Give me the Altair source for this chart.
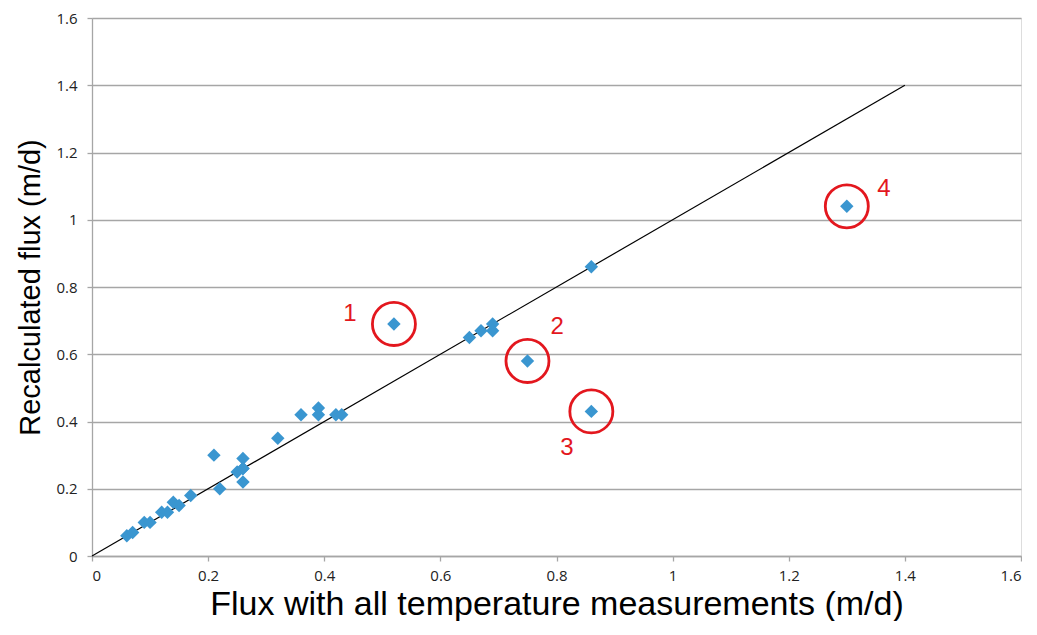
import altair as alt
import pandas as pd

# Scatter data: flux with all temperature measurements vs recalculated flux (m/d)
flux_all = [0.06, 0.07, 0.09, 0.10, 0.12, 0.13, 0.14, 0.15, 0.17, 0.21, 0.22,
            0.25, 0.26, 0.26, 0.26, 0.26, 0.32, 0.36, 0.39, 0.39, 0.42, 0.43,
            0.52, 0.65, 0.67, 0.69, 0.69, 0.75, 0.86, 0.86, 1.30]
flux_recalc = [0.06, 0.07, 0.10, 0.10, 0.13, 0.13, 0.16, 0.15, 0.18, 0.30, 0.20,
               0.25, 0.26, 0.29, 0.22, 0.26, 0.35, 0.42, 0.44, 0.42, 0.42, 0.42,
               0.69, 0.65, 0.67, 0.69, 0.67, 0.58, 0.86, 0.43, 1.04]

# Outliers highlighted with circles
outlier_x = [0.52, 0.75, 0.86, 1.30]
outlier_y = [0.69, 0.58, 0.43, 1.04]
outlier_labels = ["1", "2", "3", "4"]
label_x = [0.444, 0.801, 0.818, 1.364]
label_y = [0.719, 0.680, 0.322, 1.092]

# 1:1 line
line_x = [0.0, 1.4]
line_y = [0.0, 1.4]

ticks = [0, 0.2, 0.4, 0.6, 0.8, 1.0, 1.2, 1.4, 1.6]

pts = pd.DataFrame({"x": flux_all, "y": flux_recalc})
out = pd.DataFrame({"x": outlier_x, "y": outlier_y})
lab = pd.DataFrame({"x": label_x, "y": label_y, "t": outlier_labels})
ln = pd.DataFrame({"x": line_x, "y": line_y})

xs = alt.Scale(domain=[0, 1.6], nice=False, zero=True)
ys = alt.Scale(domain=[0, 1.6], nice=False, zero=True)

xaxis = alt.Axis(values=ticks, format="~g", grid=False,
                 title="Flux with all temperature measurements (m/d)",
                 labelFont="Open Sans", labelFontSize=15, labelColor="#222222",
                 labelPadding=7, titleFont="Liberation Sans", titleFontSize=34,
                 titleFontWeight="normal", titleColor="#000000", titlePadding=4,
                 domainColor="#A6A6A6", tickColor="#A6A6A6", tickSize=5,
                 domainWidth=1.3, tickWidth=1.3)
yaxis = alt.Axis(values=ticks, format="~g", grid=True, gridColor="#A6A6A6",
                 gridWidth=1.3,
                 title="Recalculated flux (m/d)",
                 labelFont="Open Sans", labelFontSize=15, labelColor="#222222",
                 labelPadding=10, titleFont="Liberation Sans", titleFontSize=29,
                 titleFontWeight="normal", titleColor="#000000", titlePadding=10,
                 domainColor="#A6A6A6", tickColor="#A6A6A6", tickSize=5,
                 domainWidth=1.3, tickWidth=1.3)

line = alt.Chart(ln).mark_line(color="black", strokeWidth=1.2).encode(
    x=alt.X("x:Q", scale=xs, axis=xaxis),
    y=alt.Y("y:Q", scale=ys, axis=yaxis),
)

points = alt.Chart(pts).mark_point(shape="diamond", filled=True, size=180,
                                   color="#3A96D0", opacity=1).encode(
    x=alt.X("x:Q", scale=xs),
    y=alt.Y("y:Q", scale=ys),
)

circles = alt.Chart(out).mark_point(shape="circle", filled=False, size=1850,
                                    color="#E3171E", strokeWidth=2.8,
                                    opacity=1).encode(
    x=alt.X("x:Q", scale=xs),
    y=alt.Y("y:Q", scale=ys),
)

labels = alt.Chart(lab).mark_text(font="Liberation Sans", fontSize=24,
                                  color="#E3171E", align="center",
                                  baseline="middle").encode(
    x=alt.X("x:Q", scale=xs),
    y=alt.Y("y:Q", scale=ys),
    text="t:N",
)

chart = alt.layer(line, points, circles, labels).properties(
    width=929, height=538,
    padding={"left": 8, "top": 3, "right": 0, "bottom": 0},
).configure_view(stroke=None).configure(background="white")

chart.save("out.html", embed_options={"renderer": "svg", "actions": False})
